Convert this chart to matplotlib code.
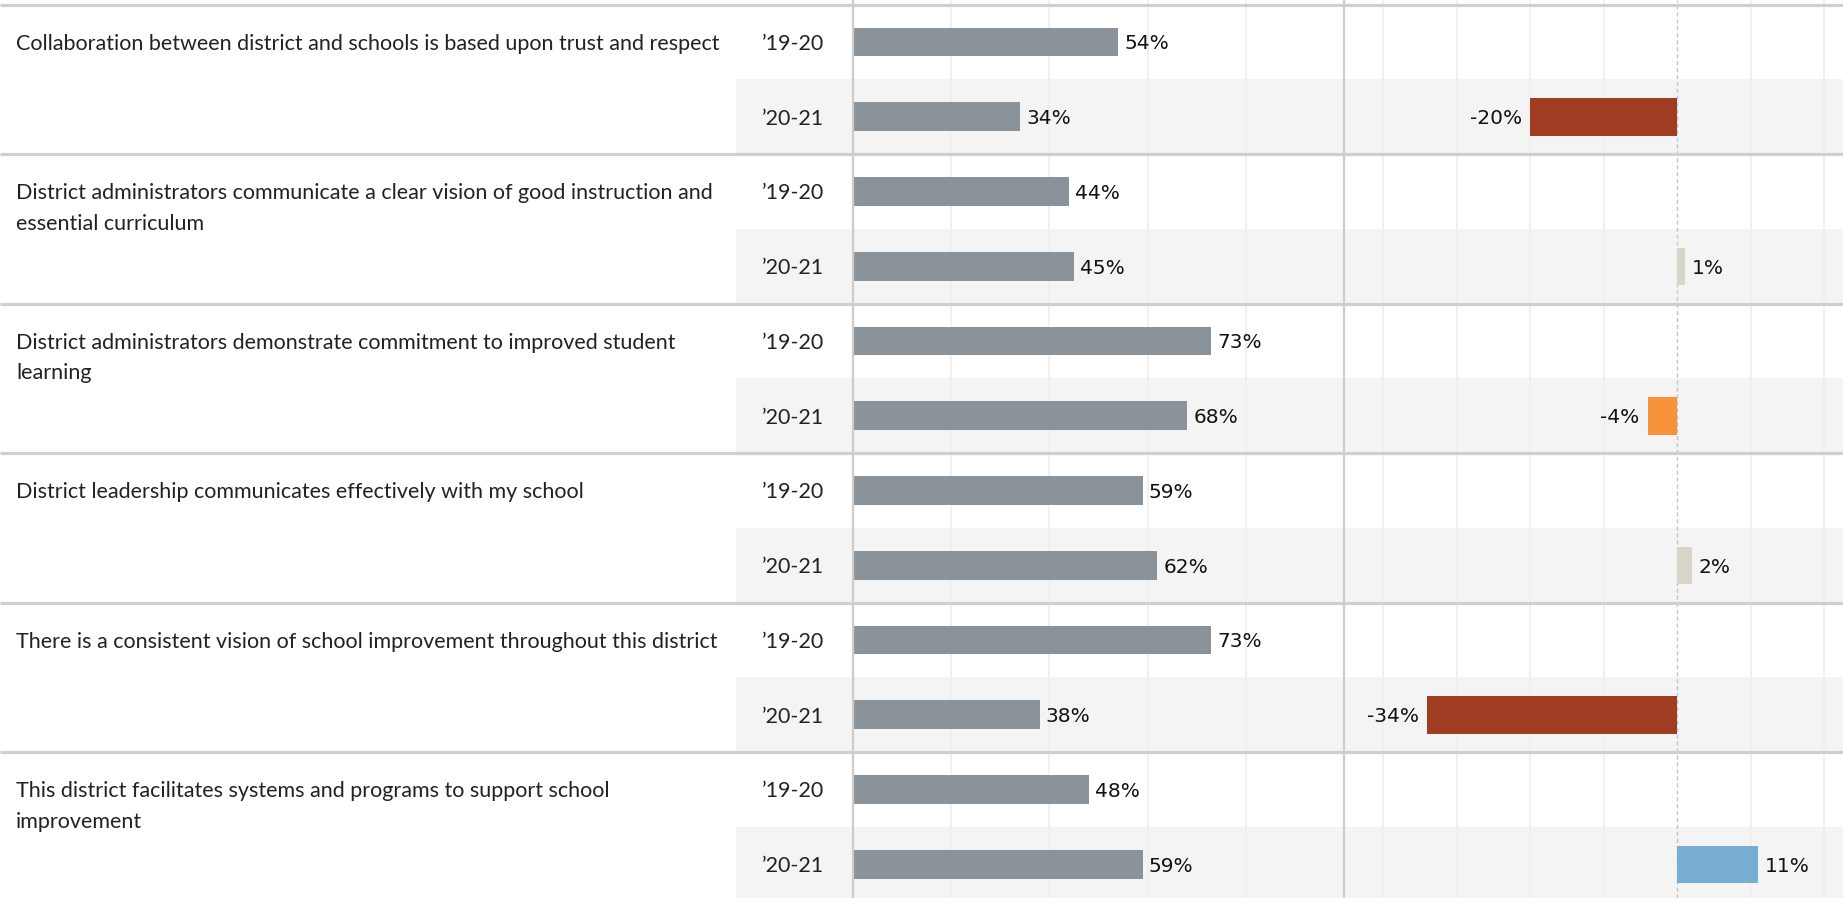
import matplotlib.pyplot as plt

# Survey items, two school years each
questions = [
    "Collaboration between district and schools is based upon trust and respect",
    "District administrators communicate a clear vision of good instruction and\nessential curriculum",
    "District administrators demonstrate commitment to improved student\nlearning",
    "District leadership communicates effectively with my school",
    "There is a consistent vision of school improvement throughout this district",
    "This district facilitates systems and programs to support school\nimprovement",
]
years = ["\u201919-20", "\u201920-21"]
pct_1920 = [54, 44, 73, 59, 73, 48]
pct_2021 = [34, 45, 68, 62, 38, 59]
change = [-20, 1, -4, 2, -34, 11]

W, H = 1843, 898
plt.rcParams["font.family"] = ["Lato", "DejaVu Sans"]
NUM_FONT = ["DejaVu Sans"]

GRAY = "#8b939a"
SHADE = "#f4f4f4"
SEP = "#cfcfcf"
GRID = "#eeeeee"
TXT = "#222222"


def change_color(v):
    if v <= -10:
        return "#a03c22"
    if v < -2:
        return "#f7923a"
    if v <= 5:
        return "#d9d5c9"
    return "#77acd3"


row_px = 149.5 / 2
top_px = 4.7
ylim = ((H - top_px) / row_px, -top_px / row_px)
dy = 0.025  # nudge text onto the bar centre line

fig = plt.figure(figsize=(W / 100, H / 100), dpi=100)

# background: shading for the second year rows, label column, separators
bg = fig.add_axes([0, 0, 1, 1])
bg.set_xlim(0, 1)
bg.set_ylim(*ylim)
bg.axis("off")

x_left = 853 / W
x_split = 1344 / W
ax1 = fig.add_axes([x_left, 0, x_split - x_left, 1])
ax2 = fig.add_axes([x_split, 0, 1 - x_split, 1])

for g in range(len(questions)):
    bg.axhspan(2 * g + 1, 2 * g + 2, xmin=736 / W, xmax=1, color=SHADE, lw=0, zorder=0)

for g, q in enumerate(questions):
    for i, line in enumerate(q.split("\n")):
        bg.text(16 / W, 2 * g + 0.5 + dy + i * 0.405, line, ha="left", va="center",
                fontsize=15.5, color=TXT)
    for j, yr in enumerate(years):
        bg.text(824 / W, 2 * g + j + 0.5 + dy, yr, ha="right", va="center",
                fontsize=15.5, color=TXT)

for ax in (ax1, ax2):
    ax.set_ylim(*ylim)
    ax.patch.set_alpha(0)
    ax.set_yticks([])
    ax.set_xticks([])
    for s in ("top", "right", "bottom"):
        ax.spines[s].set_visible(False)
    ax.spines["left"].set_color("#cccccc")
    ax.spines["left"].set_linewidth(1.6)

# separators between questions, across the whole width
for g in range(len(questions)):
    y = 2 * g
    bg.plot([0, x_left], [y, y], color=SEP, lw=2.3, zorder=3, solid_capstyle="butt")
    for ax in (ax1, ax2):
        ax.axhline(y, color=SEP, lw=2.3, zorder=3)

# left panel: share agreeing per year
ax1.set_xlim(0, 100)
for gx in (20, 40, 60, 80):
    ax1.axvline(gx, color=GRID, lw=1.2, zorder=1)

rows_1920 = [2 * g + 0.5 for g in range(len(questions))]
rows_2021 = [2 * g + 1.5 for g in range(len(questions))]
ax1.barh(rows_1920, pct_1920, height=0.385, color=GRAY, zorder=2)
ax1.barh(rows_2021, pct_2021, height=0.385, color=GRAY, zorder=2)
for y, v in zip(rows_1920 + rows_2021, pct_1920 + pct_2021):
    ax1.annotate(f"{v}%", (v, y + dy), xytext=(4.5, 0), textcoords="offset points",
                 ha="left", va="center", fontsize=14.5, color="#111111", family=NUM_FONT)

# right panel: change between years
ax2.set_xlim(-45.35, 22.55)
for gx in (-40, -30, -20, -10, 10, 20):
    ax2.axvline(gx, color=GRID, lw=1.2, zorder=1)
ax2.axvline(0, color="#c4c4c4", lw=1.0, ls=(0, (3, 2)), zorder=1)
ax2.barh(rows_2021, change, height=0.5, color=[change_color(v) for v in change], zorder=2)
for y, v in zip(rows_2021, change):
    if v < 0:
        ax2.annotate(f"{v}%", (v, y + dy), xytext=(-6, 0), textcoords="offset points",
                     ha="right", va="center", fontsize=14.5, color="#111111", family=NUM_FONT)
    else:
        ax2.annotate(f"{v}%", (v, y + dy), xytext=(5, 0), textcoords="offset points",
                     ha="left", va="center", fontsize=14.5, color="#111111", family=NUM_FONT)

fig.savefig("out.png", dpi=100)
